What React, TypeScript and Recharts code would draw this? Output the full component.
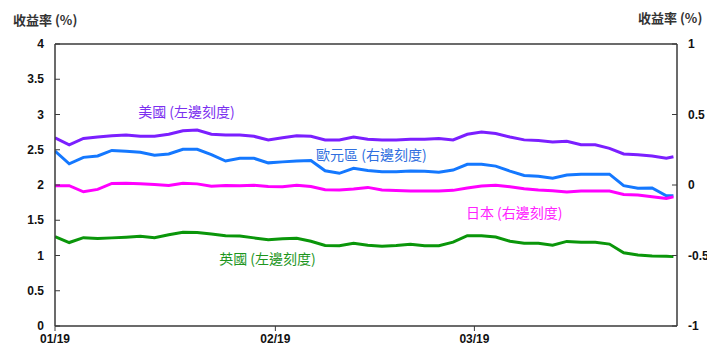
import React from 'react';
import { LineChart, Line, XAxis, YAxis, ReferenceLine, ReferenceDot } from 'recharts';

// day offsets from 19 Jan
const days = [0, 2, 4, 6, 8, 10, 12, 14, 16, 18, 20, 22, 24, 26, 28, 30, 32, 34, 36, 38, 40, 42, 44, 46, 48, 50, 52, 54, 56, 58, 60, 62, 64, 66, 68, 70, 72, 74, 76, 78, 80, 82, 84, 86, 87];

// US (left axis)
const usYield = [2.67, 2.57, 2.66, 2.68, 2.70, 2.71, 2.69, 2.69, 2.72, 2.77, 2.78, 2.72, 2.71, 2.71, 2.69, 2.64, 2.67, 2.70, 2.69, 2.64, 2.64, 2.68, 2.65, 2.64, 2.64, 2.65, 2.65, 2.66, 2.64, 2.72, 2.75, 2.73, 2.68, 2.64, 2.63, 2.61, 2.62, 2.57, 2.57, 2.52, 2.44, 2.43, 2.41, 2.38, 2.40];
// Euro area (right axis)
const euYield = [0.241, 0.150, 0.196, 0.206, 0.245, 0.240, 0.232, 0.211, 0.220, 0.253, 0.253, 0.216, 0.170, 0.189, 0.189, 0.157, 0.164, 0.170, 0.174, 0.101, 0.083, 0.118, 0.103, 0.094, 0.094, 0.099, 0.098, 0.090, 0.106, 0.147, 0.147, 0.134, 0.098, 0.068, 0.062, 0.048, 0.071, 0.076, 0.076, 0.077, -0.005, -0.023, -0.021, -0.077, -0.076];
// Japan (right axis)
const jpYield = [-0.005, -0.005, -0.048, -0.031, 0.011, 0.013, 0.008, 0.003, -0.004, 0.012, 0.008, -0.009, -0.003, -0.006, -0.002, -0.010, -0.012, -0.001, -0.011, -0.034, -0.035, -0.028, -0.017, -0.035, -0.039, -0.043, -0.043, -0.043, -0.038, -0.021, -0.007, -0.001, -0.013, -0.027, -0.035, -0.040, -0.050, -0.043, -0.043, -0.043, -0.067, -0.071, -0.083, -0.096, -0.084];
// UK (left axis)
const ukYield = [1.267, 1.184, 1.253, 1.240, 1.250, 1.260, 1.274, 1.251, 1.295, 1.330, 1.326, 1.305, 1.280, 1.275, 1.250, 1.224, 1.238, 1.244, 1.203, 1.143, 1.139, 1.173, 1.146, 1.131, 1.141, 1.159, 1.138, 1.139, 1.189, 1.281, 1.281, 1.262, 1.203, 1.173, 1.173, 1.146, 1.200, 1.187, 1.187, 1.162, 1.038, 1.007, 0.994, 0.991, 0.984];

const xTickDays = [0, 31, 59];
const xTickLabels = ['01/19', '02/19', '03/19'];
const leftTicks = [0, 0.5, 1, 1.5, 2, 2.5, 3, 3.5, 4];
const rightTicks = [-1, -0.5, 0, 0.5, 1];

const seriesNames = ['美國 (左邊刻度)', '歐元區 (右邊刻度)', '日本 (右邊刻度)', '英國 (左邊刻度)'];
const titleText = '收益率 (%)';

const data = days.map((d, i) => ({ day: d, us: usYield[i], eu: euYield[i], jp: jpYield[i], uk: ukYield[i] }));

const AXIS = '#3a3a3a';
const tickFont = { fontFamily: '"Liberation Sans", Arial, sans-serif', fontWeight: 'bold' as const, fontSize: 12, fill: '#111' };
const cjkFont = '"Noto Sans CJK TC", "Noto Sans CJK SC", sans-serif';

const LeftTick = (props: any) => {
  const { x, y, payload } = props;
  return (
    <g>
      <line x1={x} x2={x + 5} y1={y} y2={y} stroke={AXIS} strokeWidth={1} />
      <text x={x - 11} y={y} dy={4} textAnchor="end" {...tickFont}>{payload.value}</text>
    </g>
  );
};

const RightTick = (props: any) => {
  const { x, y, payload } = props;
  return (
    <g>
      <line x1={x - 5} x2={x} y1={y} y2={y} stroke={AXIS} strokeWidth={1} />
      <text x={x + 11} y={y} dy={4} textAnchor="start" {...tickFont}>{payload.value}</text>
    </g>
  );
};

const colors = { us: '#7B1FFF', eu: '#1478FF', jp: '#FF00FF', uk: '#0A960A' };
const labelColors = { us: '#7B2FF0', eu: '#2F6FE0', jp: '#FF22FF', uk: '#1E961E' };

export default function App() {
  return (
    <div style={{ position: 'absolute', left: 0, top: 0, width: 707, height: 353, background: '#fff' }}>
      <div style={{ position: 'absolute', left: 13, top: 11, fontFamily: cjkFont, fontWeight: 'bold', fontSize: 13, lineHeight: '18px', color: '#333', whiteSpace: 'nowrap' }}>{titleText}</div>
      <div style={{ position: 'absolute', left: 638, top: 9, fontFamily: cjkFont, fontWeight: 'bold', fontSize: 13, lineHeight: '18px', color: '#333', whiteSpace: 'nowrap' }}>{titleText}</div>
      <LineChart width={707} height={353} data={data} margin={{ top: 44, right: 0, left: 0, bottom: 0 }}>
        <XAxis
          dataKey="day"
          type="number"
          domain={[0, 87.5]}
          allowDataOverflow
          ticks={xTickDays}
          tickFormatter={(v: number) => xTickLabels[xTickDays.indexOf(v)]}
          height={27}
          tickSize={5}
          tickMargin={3}
          axisLine={{ stroke: AXIS, strokeWidth: 1.5 }}
          tickLine={{ stroke: AXIS }}
          tick={tickFont}
          interval={0}
        />
        <YAxis
          yAxisId="left"
          orientation="left"
          domain={[0, 4]}
          ticks={leftTicks}
          width={55}
          tickSize={0}
          tickMargin={0}
          tickLine={false}
          axisLine={{ stroke: AXIS, strokeWidth: 1.5 }}
          tick={<LeftTick />}
          interval={0}
        />
        <YAxis
          yAxisId="right"
          orientation="right"
          domain={[-1, 1]}
          ticks={rightTicks}
          width={30}
          tickSize={0}
          tickMargin={0}
          tickLine={false}
          axisLine={{ stroke: AXIS, strokeWidth: 1.5 }}
          tick={<RightTick />}
          interval={0}
        />
        <ReferenceLine yAxisId="left" y={4} stroke={AXIS} strokeWidth={1.5} />
        <Line yAxisId="left" dataKey="us" stroke={colors.us} strokeWidth={3} dot={false} isAnimationActive={false} />
        <Line yAxisId="right" dataKey="eu" stroke={colors.eu} strokeWidth={3} dot={false} isAnimationActive={false} />
        <Line yAxisId="right" dataKey="jp" stroke={colors.jp} strokeWidth={3} dot={false} isAnimationActive={false} />
        <Line yAxisId="left" dataKey="uk" stroke={colors.uk} strokeWidth={3} dot={false} isAnimationActive={false} />
        <ReferenceDot yAxisId="left" x={18.5} y={3.035} r={0} fill="none" stroke="none"
          label={{ value: seriesNames[0], position: 'center', fill: labelColors.us, fontSize: 14, fontFamily: cjkFont }} />
        <ReferenceDot yAxisId="right" x={44.5} y={0.213} r={0} fill="none" stroke="none"
          label={{ value: seriesNames[1], position: 'center', fill: labelColors.eu, fontSize: 14, fontFamily: cjkFont }} />
        <ReferenceDot yAxisId="right" x={64.6} y={-0.202} r={0} fill="none" stroke="none"
          label={{ value: seriesNames[2], position: 'center', fill: labelColors.jp, fontSize: 14, fontFamily: cjkFont }} />
        <ReferenceDot yAxisId="left" x={29.9} y={0.95} r={0} fill="none" stroke="none"
          label={{ value: seriesNames[3], position: 'center', fill: labelColors.uk, fontSize: 14, fontFamily: cjkFont }} />
      </LineChart>
    </div>
  );
}
